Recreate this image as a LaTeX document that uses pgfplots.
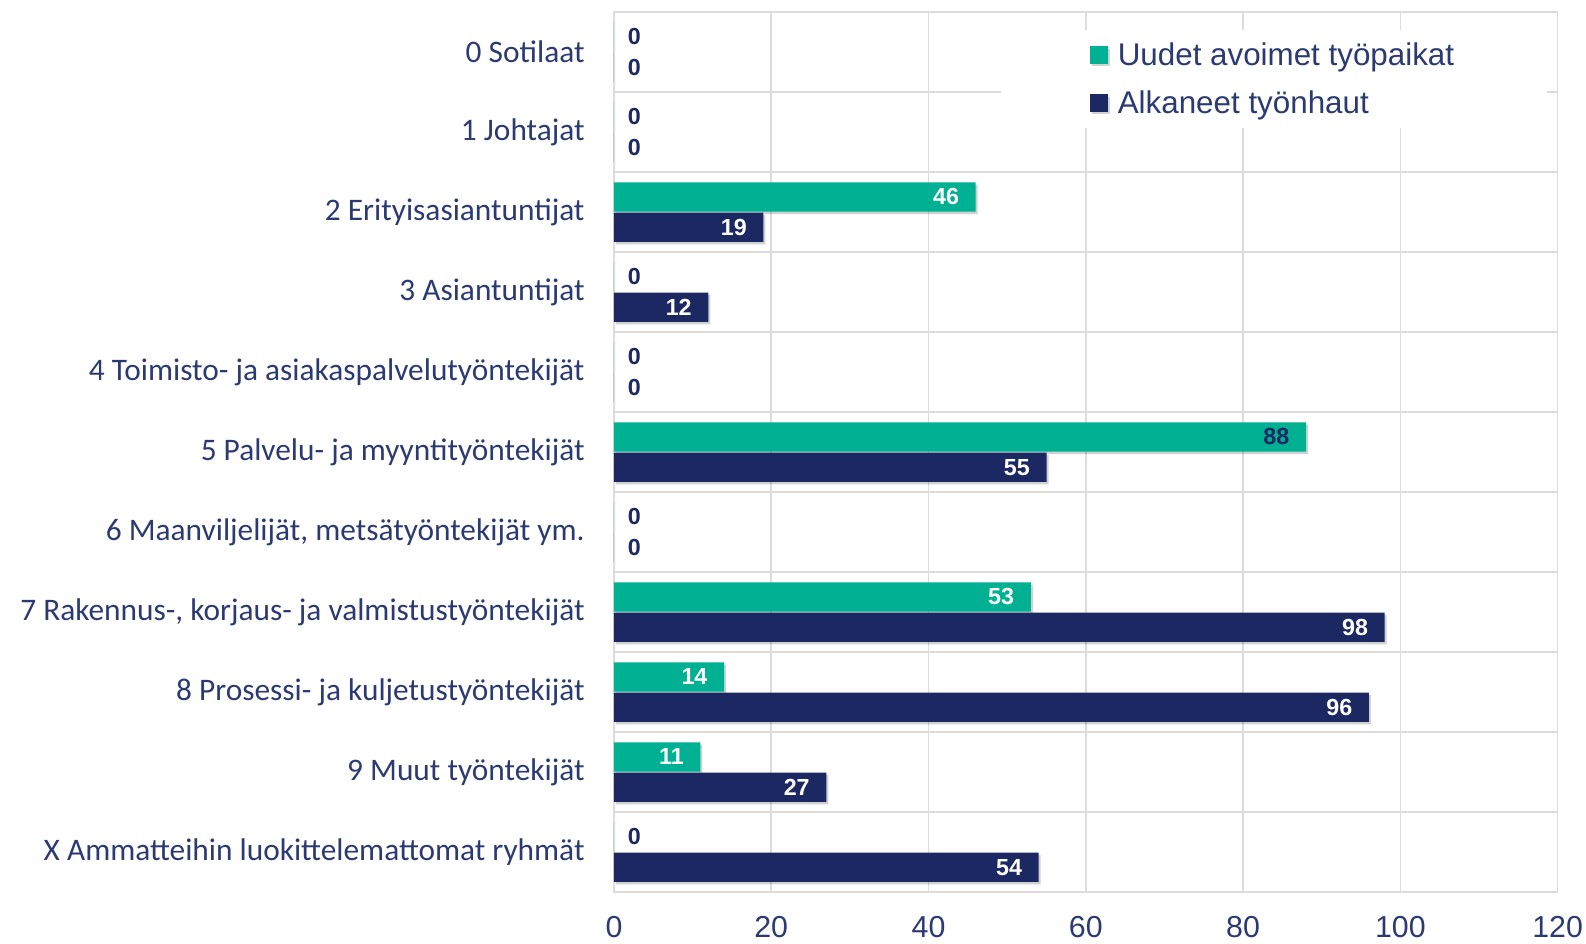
\documentclass[border=0pt]{standalone}
\usepackage{pgfplots}
\usepackage{pgfplotstable}
\pgfplotsset{compat=1.18}
\usepackage{fontspec}
\setmainfont{Liberation Sans}
\newfontfamily\calfont{Carlito}
\definecolor{greenc}{HTML}{00B092}
\definecolor{navyc}{HTML}{1B2862}
\definecolor{labnavy}{HTML}{2C3A72}
\definecolor{gridc}{HTML}{DCDCDC}

% m = 100: dark label, 0: white label; s = label shift from bar end (pt)
\pgfplotstableread{
y x m s
10 0 100 16.8
9 0 100 16.8
8 46 0 -4.7
7 0 100 16.8
6 0 100 16.8
5 88 100 -4.7
4 0 100 16.8
3 53 0 -4.7
2 14 0 -4.7
1 11 0 -4.7
0 0 100 16.8
}\uudet

\pgfplotstableread{
y x m s
10 0 100 16.8
9 0 100 16.8
8 19 0 -4.7
7 12 0 -4.7
6 0 100 16.8
5 55 0 -4.7
4 0 100 16.8
3 98 0 -4.7
2 96 0 -4.7
1 27 0 -4.7
0 54 0 -4.7
}\alkaneet

\begin{document}
\begin{tikzpicture}
\begin{axis}[
  scale only axis, width=466.5pt, height=435pt,
  xmin=0, xmax=120, ymin=-0.5, ymax=10.5,
  xtick={0,20,...,120}, ytick={0,...,10},
  minor ytick={-0.5,0.5,...,10.5},
  yticklabels={X Ammatteihin luokittelemattomat ryhmät, 9 Muut työntekijät, 8 Prosessi- ja kuljetustyöntekijät, {7 Rakennus-, korjaus- ja valmistustyöntekijät}, {6 Maanviljelijät, metsätyöntekijät ym.}, 5 Palvelu- ja myyntityöntekijät, 4 Toimisto- ja asiakaspalvelutyöntekijät, 3 Asiantuntijat, 2 Erityisasiantuntijat, 1 Johtajat, 0 Sotilaat},
  xmajorgrids, yminorgrids,
  grid style={draw=gridc, line width=0.8pt},
  minor grid style={draw=gridc, line width=0.8pt},
  axis line style={draw=gridc, line width=0.8pt},
  major tick length=0pt, minor tick length=0pt,
  tick style={draw=none},
  yticklabel style={font=\calfont\fontsize{15.5}{18}\selectfont, text=labnavy, xshift=-11pt},
  xticklabel style={font=\fontsize{15}{18}\selectfont, text=labnavy, yshift=-8.5pt},
  /pgf/number format/assume math mode=true,
  legend style={at={(0.410,0.980)}, anchor=north west, fill=white, draw=none,
    inner xsep=44pt, inner ysep=4pt, font=\fontsize{15.5}{18}\selectfont, text=labnavy,
    row sep=7pt,
    /tikz/every even column/.append style={column sep=0pt},
    /tikz/every odd column/.append style={column sep=3pt}},
  legend cell align=left,
  legend image code/.code={\draw[#1,draw=none,preaction={draw=none}] (0pt,-4.3pt) rectangle (8.6pt,4.3pt);},
  clip=false,
  point meta=explicit symbolic,
  nodes near coords={\pgfplotspointmeta},
  every node near coord/.append style={font=\bfseries\fontsize{11.5}{13}\selectfont,
    text=navyc!\labmix!white, anchor=east, xshift=\labshift pt},
  barshadow/.style={preaction={fill=black, fill opacity=0.18, draw=none,
    transform canvas={xshift=1pt, yshift=-1.2pt}}},
]
\addplot[xbar, bar width=14.5pt, bar shift=7.5pt, fill=greenc, draw=none, barshadow,
  every node near coord/.append style={yshift=7.5pt},
  visualization depends on={\thisrow{m} \as \labmix},
  visualization depends on={\thisrow{s} \as \labshift}]
  table[x=x, y=y, meta=x] {\uudet};
\addlegendentry{Uudet avoimet työpaikat}
\addplot[xbar, bar width=14.5pt, bar shift=-7.5pt, fill=navyc, draw=none, barshadow,
  every node near coord/.append style={yshift=-7.5pt},
  visualization depends on={\thisrow{m} \as \labmix},
  visualization depends on={\thisrow{s} \as \labshift}]
  table[x=x, y=y, meta=x] {\alkaneet};
\addlegendentry{Alkaneet työnhaut}
\end{axis}
\pgfresetboundingbox
\path[use as bounding box] (-303.5pt,-25.5pt) rectangle (480.5pt,441pt);
\end{tikzpicture}
\end{document}
